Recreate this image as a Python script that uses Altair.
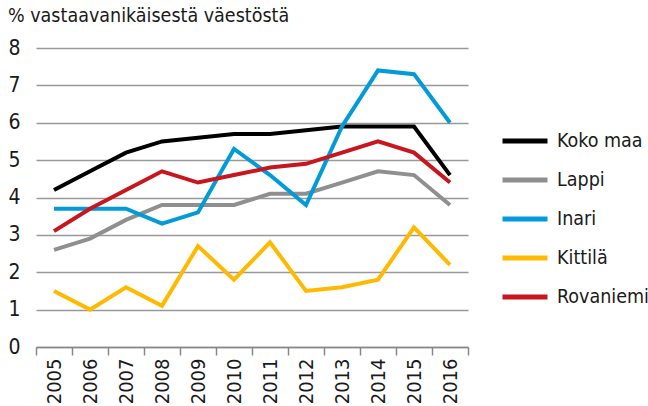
import altair as alt
import pandas as pd

years = [str(y) for y in range(2005, 2017)]
series = ["Koko maa", "Lappi", "Inari", "Kittilä", "Rovaniemi"]
colors = ["#000000", "#8f8f8f", "#009bd8", "#ffb900", "#c8161e"]

koko_maa = [4.2, 4.7, 5.2, 5.5, 5.6, 5.7, 5.7, 5.8, 5.9, 5.9, 5.9, 4.6]
lappi = [2.6, 2.9, 3.4, 3.8, 3.8, 3.8, 4.1, 4.1, 4.4, 4.7, 4.6, 3.8]
inari = [3.7, 3.7, 3.7, 3.3, 3.6, 5.3, 4.6, 3.8, 5.9, 7.4, 7.3, 6.0]
kittila = [1.5, 1.0, 1.6, 1.1, 2.7, 1.8, 2.8, 1.5, 1.6, 1.8, 3.2, 2.2]
rovaniemi = [3.1, 3.7, 4.2, 4.7, 4.4, 4.6, 4.8, 4.9, 5.2, 5.5, 5.2, 4.4]

rows = []
for name, vals in zip(series, [koko_maa, lappi, inari, kittila, rovaniemi]):
    for y, v in zip(years, vals):
        rows.append({"Vuosi": y, "Arvo": v, "Sarja": name})
df = pd.DataFrame(rows)

font = "DejaVu Sans Condensed"
text_color = "#1a1a1a"

chart = alt.Chart(df).mark_line(strokeWidth=4).encode(
    x=alt.X(
        "Vuosi:O",
        scale=alt.Scale(type="band", paddingInner=0, paddingOuter=0),
        axis=alt.Axis(
            title=None, labelAngle=-90, tickBand="extent", tickSize=8,
            labelPadding=3, domainColor="#888888", tickColor="#888888",
            domainWidth=1.5, tickWidth=1.5, grid=False,
            labelFontSize=20, labelFont=font, labelColor=text_color,
        ),
    ),
    y=alt.Y(
        "Arvo:Q",
        scale=alt.Scale(domain=[0, 8]),
        axis=alt.Axis(
            title=None, values=list(range(9)), domain=False, ticks=False,
            labelPadding=16, gridColor="#999999", gridWidth=1.5,
            labelFontSize=21, labelFont=font, labelColor=text_color,
        ),
    ),
    color=alt.Color(
        "Sarja:N",
        scale=alt.Scale(domain=series, range=colors),
        legend=alt.Legend(
            title=None, orient="none", legendX=464, legendY=68,
            symbolType="stroke", symbolSize=2025, symbolStrokeWidth=5,
            labelFontSize=19.5, labelFont=font, labelColor=text_color,
            labelOffset=7, rowPadding=4,
        ),
    ),
).properties(
    width=432,
    height=299,
    autosize="none",
    padding={"left": 36, "top": 48, "right": 180, "bottom": 59},
    title=alt.TitleParams(
        "% vastaavanikäisestä väestöstä", anchor="start", frame="group",
        dx=-28, fontSize=19.5, font=font, fontWeight="normal", color=text_color,
        offset=11,
    ),
).configure_view(stroke=None)

chart.save("out.html", embed_options={"renderer": "svg", "actions": False})
